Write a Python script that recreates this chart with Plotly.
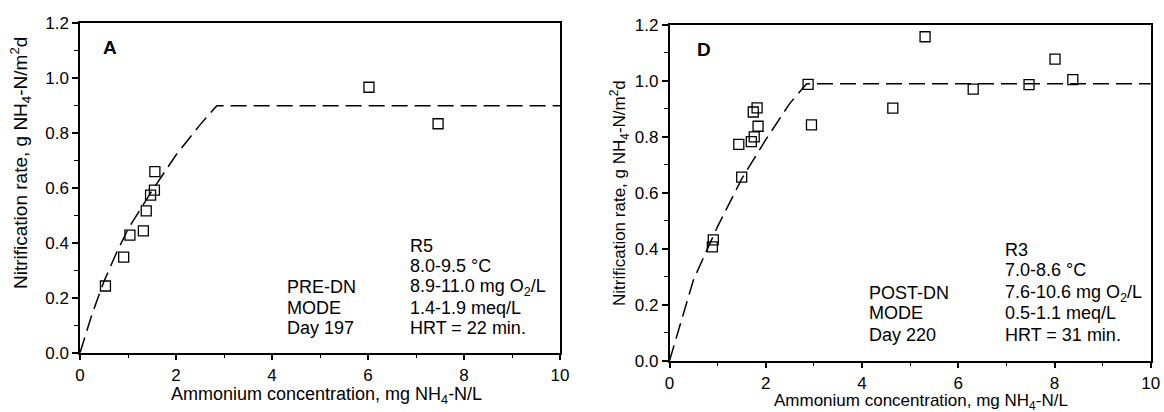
import plotly.graph_objects as go

W, H = 1164, 412
FONT = "Liberation Sans, Arial, Helvetica, sans-serif"

# Panel A: R5, pre-denitrification mode, day 197
a_nh4 = [0.53, 0.91, 1.04, 1.32, 1.38, 1.47, 1.55, 1.56, 6.02, 7.46]
a_rate = [0.243, 0.348, 0.428, 0.444, 0.517, 0.574, 0.592, 0.660, 0.967, 0.834]
a_fit_nh4 = [0.0, 0.25, 0.5, 0.75, 1.0, 1.5, 2.0, 2.5, 2.85, 10.0]
a_fit_rate = [0.0, 0.14, 0.26, 0.36, 0.45, 0.59, 0.72, 0.83, 0.90, 0.90]

# Panel D: R3, post-denitrification mode, day 220
d_nh4 = [0.89, 0.91, 1.44, 1.50, 1.70, 1.76, 1.74, 1.82, 1.84, 2.88, 2.95,
         4.64, 5.31, 6.31, 7.47, 8.01, 8.38]
d_rate = [0.407, 0.432, 0.773, 0.656, 0.783, 0.800, 0.889, 0.904, 0.838,
          0.988, 0.843, 0.903, 1.158, 0.971, 0.987, 1.078, 1.005]
d_fit_nh4 = [0.0, 0.5, 1.0, 1.5, 2.0, 2.5, 2.85, 10.0]
d_fit_rate = [0.0, 0.29, 0.48, 0.65, 0.79, 0.92, 0.99, 0.99]

x_ticks = [0, 2, 4, 6, 8, 10]
y_ticks = [0.0, 0.2, 0.4, 0.6, 0.8, 1.0, 1.2]

a_left = ["PRE-DN", "MODE", "Day 197"]
a_right = ["R5", "8.0-9.5 °C", "8.9-11.0 mg O<sub>2</sub>/L", "1.4-1.9 meq/L",
           "HRT = 22 min."]
d_left = ["POST-DN", "MODE", "Day 220"]
d_right = ["R3", "7.0-8.6 °C", "7.6-10.6 mg O<sub>2</sub>/L", "0.5-1.1 meq/L",
           "HRT = 31 min."]

x_title = "Ammonium concentration, mg NH<sub>4</sub>-N/L"
y_title = "Nitrification rate, g NH<sub>4</sub>-N/m<sup>2</sup>d"

# plot-area rectangles in pixels: (left, right, top, bottom)
boxes = [(80, 560, 23.3, 352.7), (669.5, 1150.8, 25, 360.7)]

fig = go.Figure()

line_style = dict(color="black", width=1.5, dash="16px,7px")
marker_style = dict(symbol="square-open", size=10, color="black",
                    line=dict(width=1.3, color="black"))

for i, (fx, fy, px, py) in enumerate([
        (a_fit_nh4, a_fit_rate, a_nh4, a_rate),
        (d_fit_nh4, d_fit_rate, d_nh4, d_rate)]):
    xa = "x" if i == 0 else "x2"
    ya = "y" if i == 0 else "y2"
    fig.add_trace(go.Scatter(x=fx, y=fy, mode="lines", line=line_style,
                             xaxis=xa, yaxis=ya, showlegend=False))
    fig.add_trace(go.Scatter(x=px, y=py, mode="markers", marker=marker_style,
                             xaxis=xa, yaxis=ya, showlegend=False))

def axis_common():
    return dict(showline=True, linecolor="black", linewidth=1.5, mirror=True,
                ticks="outside", ticklen=6, tickwidth=1.5, tickcolor="black",
                showgrid=False, zeroline=False,
                tickfont=dict(family=FONT, size=17, color="black"))

layout = dict(width=W, height=H, margin=dict(l=0, r=0, t=0, b=0),
              paper_bgcolor="white", plot_bgcolor="white", showlegend=False)

for i, (l, r, t, b) in enumerate(boxes):
    sx = "" if i == 0 else "2"
    xax = axis_common()
    xax.update(domain=[l / W, r / W], range=[0, 10], tickvals=x_ticks,
               ticktext=[str(v) for v in x_ticks], automargin=False,
               anchor="y" + sx,
               minor=dict(ticks="outside", ticklen=4, tickwidth=1.3,
                          tickcolor="black", dtick=1, tick0=0))
    yax = axis_common()
    yax.update(domain=[1 - b / H, 1 - t / H], range=[0, 1.2], tickvals=y_ticks,
               ticktext=[f"{v:.1f}" for v in y_ticks], automargin=False,
               anchor="x" + sx,
               minor=dict(ticks="outside", ticklen=4, tickwidth=1.3,
                          tickcolor="black", dtick=0.1, tick0=0))
    layout["xaxis" + sx] = xax
    layout["yaxis" + sx] = yax

fig.update_layout(**layout)

def px_note(text, x, y, size=18, angle=0, xanchor="center", bold=False):
    fig.add_annotation(text=f"<b>{text}</b>" if bold else text,
                       x=x / W, y=1 - y / H, xref="paper", yref="paper",
                       showarrow=False, textangle=angle, xanchor=xanchor,
                       yanchor="middle",
                       font=dict(family=FONT, size=size, color="black"))

# axis titles
px_note(x_title, 326, 395)
px_note(x_title, 921, 402, size=17)
px_note(y_title, 21, 163, size=19, angle=-90)
px_note(y_title, 619, 193, size=17, angle=-90)

# panel letters
px_note("A", 109.5, 47, size=19, bold=True)
px_note("D", 703.5, 50, size=19, bold=True)

# condition notes
for txt, y in zip(a_left, [287, 308, 328]):
    px_note(txt, 285, y, xanchor="left")
for txt, y in zip(a_right, [246, 266, 287, 308, 328]):
    px_note(txt, 408, y, xanchor="left")
for txt, y in zip(d_left, [293, 313, 335]):
    px_note(txt, 866.7, y, xanchor="left")
for txt, y in zip(d_right, [250, 270, 293, 313, 335]):
    px_note(txt, 1003, y, xanchor="left")

fig.write_html("out.html")
